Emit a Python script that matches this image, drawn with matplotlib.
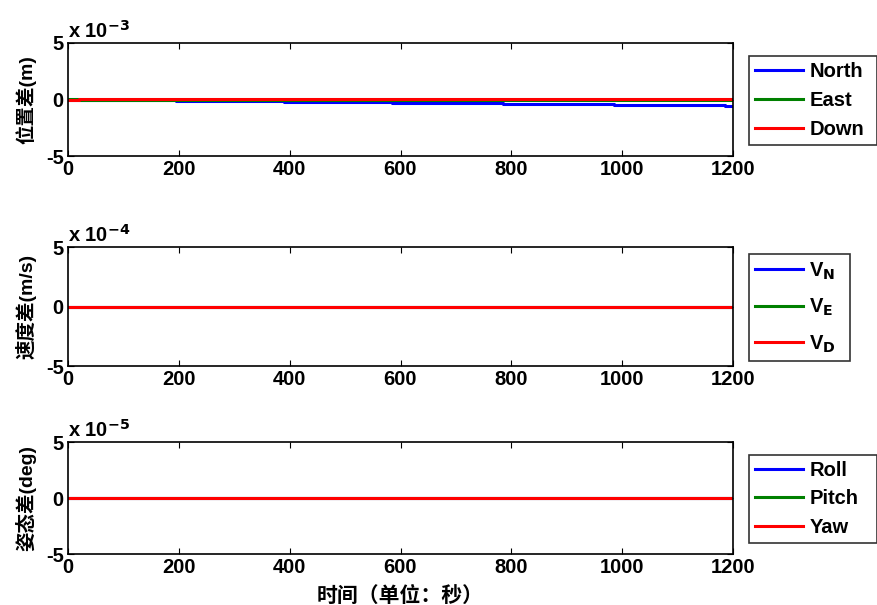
import numpy as np
import matplotlib
matplotlib.use("Agg")
import matplotlib.pyplot as plt

plt.rcParams['font.family'] = ['Liberation Sans', 'Noto Sans CJK SC', 'DejaVu Sans']
plt.rcParams['font.weight'] = 'bold'
plt.rcParams['mathtext.default'] = 'bf'
plt.rcParams['axes.unicode_minus'] = False

# position error (m), piecewise steps
pos_t = [0, 20, 195, 390, 585, 785, 985, 1185, 1200]
pos_north = [0.0, -0.05e-3, -0.12e-3, -0.22e-3, -0.3e-3, -0.38e-3, -0.47e-3, -0.6e-3, -0.6e-3]
pos_east = [0.05e-3, 0.0, 0.0, 0.0, 0.0, 0.0, 0.0, 0.0, 0.0]
pos_down = [0.0, 0.02e-3, 0.02e-3, 0.02e-3, 0.02e-3, 0.02e-3, 0.02e-3, 0.02e-3, 0.02e-3]

# velocity error (m/s)
vel_t = [0, 60, 1200]
vel_n = [0.0, 0.0, 0.0]
vel_e = [-0.03e-4, 0.0, 0.0]
vel_d = [0.0, 0.0, 0.0]

# attitude error (deg)
att_t = [0, 1200]
att_roll = [0.0, 0.0]
att_pitch = [0.0, 0.0]
att_yaw = [0.0, 0.0]

xticks = [0, 200, 400, 600, 800, 1000, 1200]
colors = ["#0000ff", "#008000", "#ff0000"]

fig = plt.figure(figsize=(8.77, 6.05), dpi=100)
W, H = 877, 605
boxes = [(43, 156), (247, 366), (442, 554)]
legend_boxes = [(749, 57, 128, 87), (749, 249, 101, 117), (749, 456, 128, 86)]
spacings = [0.5, 0.75, 0.45]

panels = [
    (pos_t, [pos_north, pos_east, pos_down], ["North", "East", "Down"], "位置差(m)", 1e-3, -3, 'steps-post'),
    (vel_t, [vel_n, vel_e, vel_d], [r"V$_{\mathbf{N}}$", r"V$_{\mathbf{E}}$", r"V$_{\mathbf{D}}$"], "速度差(m/s)", 1e-4, -4, 'steps-post'),
    (att_t, [att_roll, att_pitch, att_yaw], ["Roll", "Pitch", "Yaw"], "姿态差(deg)", 1e-5, -5, 'default'),
]

axes = []
for (top, bot), (lx, ly, lw_, lh), sp_, (t, series, labels, ylab, scale, exp, ds) in zip(boxes, legend_boxes, spacings, panels):
    ax = fig.add_axes([68 / W, 1 - bot / H, (733 - 68) / W, (bot - top) / H])
    for s, c, lab in zip(series, colors, labels):
        ax.plot(t, np.array(s) / scale, color=c, lw=2.2, label=lab, drawstyle=ds)
    ax.set_xlim(0, 1200)
    ax.set_ylim(-5, 5)
    ax.set_xticks(xticks)
    ax.set_yticks([-5, 0, 5])
    ax.tick_params(direction='in', length=4, labelsize=14.5, top=True, right=True, pad=3)
    for lab in ax.get_xticklabels() + ax.get_yticklabels():
        lab.set_fontweight('bold')
    ax.set_ylabel(ylab, fontsize=14, fontweight='bold', labelpad=7)
    ax.text(0, 1.01, r"x 10$^{%d}$" % exp, transform=ax.transAxes, fontsize=14.5,
            fontweight='bold', va='bottom', ha='left')
    for sp in ax.spines.values():
        sp.set_linewidth(1.2)
    leg = ax.legend(loc='center left',
                    bbox_to_anchor=(lx / W, 1 - (ly + lh) / H, lw_ / W, lh / H),
                    bbox_transform=fig.transFigure, mode='expand', frameon=True,
                    fancybox=False, edgecolor='black', handlelength=2.4,
                    handletextpad=0.3, borderpad=0.3, borderaxespad=0,
                    labelspacing=sp_, prop={'weight': 'bold', 'size': 14.5})
    leg.get_frame().set_linewidth(1.2)
    axes.append(ax)

axes[-1].set_xlabel("时间（单位：秒）", fontsize=15, fontweight='bold', labelpad=6)

fig.savefig("out.png", dpi=100)
